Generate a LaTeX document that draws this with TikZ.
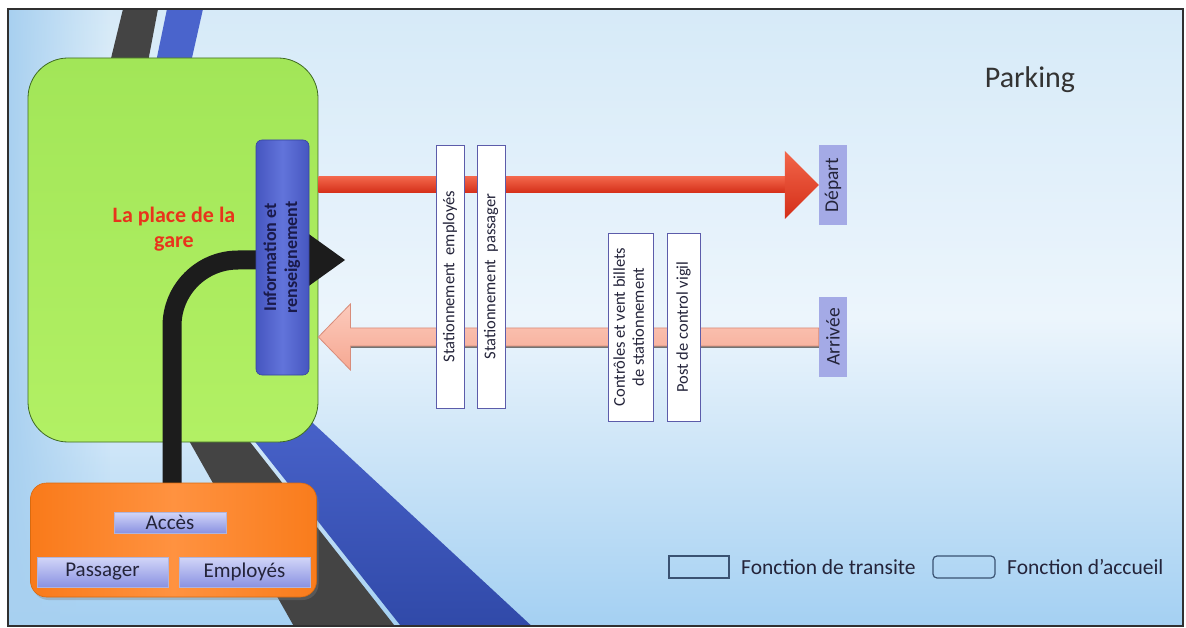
\documentclass[tikz,border=0pt]{standalone}
\usepackage{fontspec}
\setmainfont{Carlito}
\usetikzlibrary{calc,shadows,fadings}
\definecolor{bgtop}{HTML}{D6EAF8}
\definecolor{bgmid}{HTML}{ECF5FC}
\definecolor{bgbot}{HTML}{A4D0F2}
\definecolor{bgside}{HTML}{A8D0F0}
\definecolor{frameedge}{HTML}{303030}
\definecolor{roadgray}{HTML}{444444}
\definecolor{roadblue}{HTML}{3049A8}
\definecolor{roadbluetop}{HTML}{4A64CC}
\definecolor{greentop}{HTML}{A2E658}
\definecolor{greenbot}{HTML}{B2F064}
\definecolor{greenedge}{HTML}{3E6A22}
\definecolor{infoblue}{HTML}{4656C0}
\definecolor{infolight}{HTML}{6274DA}
\definecolor{infoedge}{HTML}{36449E}
\definecolor{navy}{HTML}{1A1A4A}
\definecolor{blackarrow}{HTML}{1C1C1C}
\definecolor{redlight}{HTML}{F2664A}
\definecolor{reddark}{HTML}{D42E18}
\definecolor{pinktop}{HTML}{FCCABC}
\definecolor{pinkbot}{HTML}{F6A892}
\definecolor{pinkedge}{HTML}{D88C7A}
\definecolor{orL}{HTML}{F97A1A}
\definecolor{orM}{HTML}{FF9240}
\definecolor{orR}{HTML}{F97C1C}
\definecolor{oredge}{HTML}{D86A10}
\definecolor{lavtop}{HTML}{D2D6F8}
\definecolor{lavbot}{HTML}{8A92E2}
\definecolor{lavedge}{HTML}{B0B4DC}
\definecolor{lav}{HTML}{A4AAE6}
\definecolor{boxedge}{HTML}{5C5CAA}
\definecolor{labelred}{HTML}{E8341C}
\definecolor{legendedge}{HTML}{3A5272}
\definecolor{txtdark}{HTML}{24243A}
\tikzset{
  wbox/.style={draw=boxedge, line width=0.8pt, fill=white, inner sep=0pt,
    font=\fontsize{16.5}{19}\selectfont, text=txtdark},
  lbox/.style={fill=lav, inner sep=0pt, font=\fontsize{19.5}{22}\selectfont, text=txtdark},
  abox/.style={top color=lavtop, bottom color=lavbot, draw=lavedge, line width=0.6pt,
    inner sep=0pt, font=\fontsize{21}{24}\selectfont, text=txtdark},
  legtext/.style={anchor=west, inner sep=0pt, font=\fontsize{21.5}{24}\selectfont, text=txtdark},
}
\begin{document}
\begin{tikzpicture}[x=1pt,y=-1pt]
\useasboundingbox (0,0) rectangle (1186,628);
% background
\shade[top color=bgtop, bottom color=bgbot, middle color=bgmid] (8,9) rectangle (1183,626);
\fill[bgside, path fading=east] (8,9) rectangle (110,626);
% roads
\begin{scope}
\clip (8,9) rectangle (1183,626);
\fill[roadgray] (123,9) -- (158,9) -- (137,120) -- (96,120) -- cycle;
\fill[roadbluetop] (167,9) -- (203,9) -- (178,120) -- (144,120) -- cycle;
\fill[roadgray] (166,400) -- (217,400) -- (398,630) -- (296,630) -- cycle;
\shade[top color=roadbluetop, bottom color=roadblue] (222,400) -- (288,400) -- (536,630) -- (404,630) -- cycle;
\end{scope}
\draw[frameedge, line width=1.2pt] (8,9) rectangle (1183,626);
% green square
\node[draw=greenedge, line width=0.8pt, rounded corners=40pt, top color=greentop, bottom color=greenbot,
  minimum width=290pt, minimum height=384pt, inner sep=0pt] (green) at (173,250) {};
\node[font=\fontsize{22}{25}\selectfont\bfseries, text=labelred, align=center, inner sep=0pt]
  (place) at (174,229) {La place de la\\gare};
\path (173.5,540) coordinate (orangec);
% black arrow
\coordinate (bs) at (172,484);
\coordinate (btip) at (345,260);
\draw[line width=19pt, blackarrow, rounded corners=66pt] (bs) |- ($(btip)+(-40,0)$);
\fill[blackarrow] ($(btip)+(-46,-33)$) -- (btip) -- ($(btip)+(-46,33)$) -- cycle;
% information box
\node[draw=infoedge, line width=0.6pt, rounded corners=6pt, left color=infoblue, right color=infoblue,
  middle color=infolight, minimum width=53pt, minimum height=235pt, inner sep=0pt,
  font=\fontsize{18}{21}\selectfont\bfseries, text=navy] (info) at (282.5,257.5)
  {\rotatebox{90}{\begin{tabular}{@{}c@{}}Information et\\renseignement\end{tabular}}};
% depart / arrivee labels
\node[lbox, minimum width=28pt, minimum height=80pt] (depart) at (833,185) {\rotatebox{90}{Départ}};
\node[lbox, minimum width=28pt, minimum height=80pt] (arrivee) at (833,337) {\rotatebox{90}{Arrivée}};
% red arrow (depart)
\coordinate (rtip) at (depart.west);
\coordinate (rbase) at (green.east |- depart.west);
\shade[top color=redlight, bottom color=reddark] ($(rbase)+(0,-8)$) rectangle ($(rtip)+(-32,8)$);
\shade[top color=redlight, bottom color=reddark] ($(rtip)+(-34,-34)$) -- (rtip) -- ($(rtip)+(-34,34)$) -- cycle;
% pink arrow (arrivee)
\coordinate (pa) at (arrivee.west);
\coordinate (pb) at (green.east |- arrivee.west);
\draw[black!55, line width=2pt] ($(pa)+(0,10)$) -- ($(pb)+(32,10)$);
\shadedraw[top color=pinktop, bottom color=pinkbot, draw=pinkedge, line width=0.8pt]
  ($(pa)+(0,-9)$) -- ($(pb)+(32,-9)$) -- ($(pb)+(32,-33)$) -- (pb) -- ($(pb)+(32,33)$)
  -- ($(pb)+(32,9)$) -- ($(pa)+(0,9)$) -- cycle;
% white boxes
\node[wbox, minimum width=28pt, minimum height=263pt] (se) at (450,276.5)
  {\rotatebox{90}{Stationnement\ \ employés}};
\node[wbox, minimum width=28pt, minimum height=263pt] (sp) at (491,276.5)
  {\rotatebox{90}{Stationnement\ \ passager}};
\node[wbox, minimum width=45pt, minimum height=188pt] (cv) at (630.5,327)
  {\rotatebox{90}{\begin{tabular}{@{}c@{}}Contrôles et vent billets\\de stationnement\end{tabular}}};
\node[wbox, minimum width=33pt, minimum height=188pt] (pc) at (683.5,327)
  {\rotatebox{90}{Post de control vigil}};
% orange access box
\node[draw=oredge, line width=0.6pt, rounded corners=16pt, left color=orL, right color=orR, middle color=orM,
  minimum width=286pt, minimum height=114pt, inner sep=0pt,
  drop shadow={shadow xshift=2pt, shadow yshift=-3pt, opacity=0.35}] (orange) at (orangec) {};
\node[abox, minimum width=112pt, minimum height=21pt] (acces) at (170,522.5) {Accès};
\node[abox, minimum width=131pt, minimum height=30pt] (passager) at (102.5,572) {Passager};
\node[abox, minimum width=131pt, minimum height=30pt] (employes) at (244.5,572) {Employés};
% legend
\node[draw=legendedge, line width=1.2pt, minimum width=60pt, minimum height=22pt, inner sep=0pt] (leg1) at (699,567) {};
\node[legtext] (leg1t) at (741,567) {Fonction de transite};
\node[draw=legendedge, line width=1.2pt, rounded corners=4pt, minimum width=62pt, minimum height=22pt, inner sep=0pt] (leg2) at (964,567) {};
\node[legtext] (leg2t) at (1007,567) {Fonction d’accueil};
% title
\node[font=\fontsize{30}{34}\selectfont, text=black!80, inner sep=0pt] (parking) at (1030,80) {Parking};
\end{tikzpicture}
\end{document}
